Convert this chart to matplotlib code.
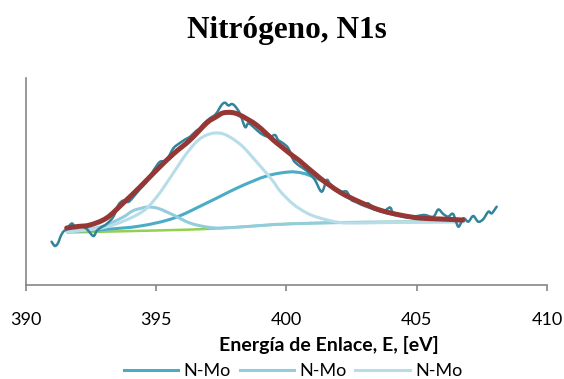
import matplotlib
matplotlib.use("Agg")
import matplotlib.pyplot as plt
from matplotlib.path import Path
from matplotlib.patches import PathPatch
from matplotlib.lines import Line2D

# ---- data (energy in eV, intensity in arbitrary units) ----
raw_e = [391.00, 391.13, 391.25, 391.32, 391.44, 391.58, 391.77, 391.90, 392.05, 392.17,
         392.35, 392.60, 392.73, 392.86, 393.11, 393.37, 393.56, 393.75, 393.94, 394.12,
         394.39, 394.65, 394.85, 394.97, 395.16, 395.41, 395.67, 395.92, 396.15, 396.31,
         396.54, 396.69, 396.82, 397.07, 397.30, 397.52, 397.65, 397.78, 397.91, 398.03,
         398.22, 398.42, 398.54, 398.73, 398.91, 399.12, 399.37, 399.57, 399.69, 399.88,
         400.08, 400.27, 400.46, 400.65, 400.87, 401.10, 401.36, 401.55, 401.68, 401.91,
         402.12, 402.32, 402.51, 402.70, 402.95, 403.14, 403.34, 403.52, 403.72, 403.98,
         404.10, 404.36, 404.59, 404.87, 405.13, 405.32, 405.64, 405.83, 406.02, 406.21,
         406.40, 406.60, 406.79, 406.98, 407.17, 407.36, 407.55, 407.75, 407.88, 408.07]
raw_i = [43.3, 39.0, 42.0, 47.0, 53.0, 56.0, 61.5, 58.5, 59.5, 58.5,
         56.0, 49.0, 54.0, 57.0, 61.0, 68.3, 80.0, 84.5, 83.0, 87.5,
         96.0, 103.3, 112.0, 117.0, 123.3, 125.0, 136.7, 142.0, 146.0, 148.3,
         154.0, 156.7, 161.0, 166.7, 171.0, 180.0, 182.3, 179.5, 181.0, 179.0,
         171.7, 158.0, 161.7, 158.3, 154.0, 150.0, 148.0, 150.0, 145.0, 141.7,
         136.7, 125.0, 120.0, 116.7, 112.0, 105.0, 93.3, 105.0, 101.0, 96.0,
         93.3, 93.3, 85.0, 83.3, 80.0, 81.7, 76.7, 75.0, 73.3, 77.5,
         71.7, 70.0, 68.0, 68.3, 69.5, 70.0, 68.3, 75.5, 71.0, 68.3,
         71.0, 58.3, 66.7, 63.3, 69.0, 63.3, 65.7, 73.3, 71.7, 78.3]

env_e = [391.58, 392.0, 392.47, 393.11, 393.75, 394.39, 395.03, 395.67, 396.31, 396.95,
         397.3, 397.57, 397.9, 398.22, 398.86, 399.5, 399.76, 400.26, 400.52, 401.29,
         402.05, 402.82, 403.58, 404.36, 405.1, 405.9, 406.77]
env_i = [57, 58.5, 60, 67, 82, 98, 115, 131, 145, 162,
         168, 172, 172.5, 170, 160, 145, 139.5, 129, 124, 107,
         93, 83, 75, 70, 67, 66, 65]

base_e = [391.6, 393.0, 394.5, 396.0, 396.7, 397.5, 398.5, 399.5, 400.5, 401.5, 403.0, 405.0, 406.8]
base_i = [52.5, 53.3, 54.2, 55.2, 55.8, 56.8, 58.5, 60.3, 61.5, 62.2, 62.8, 63.1, 63.3]

c1_e = [391.6, 393.0, 394.4, 395.7, 396.95, 398.2, 399.25, 400.1, 400.6, 401.0,
        401.4, 402.0, 402.8, 403.6, 404.4, 405.1, 405.9, 406.8]
c1_i = [53.5, 55.5, 59, 67, 82, 98, 109, 113, 112, 108.5,
        103.5, 93, 81.5, 74, 69, 66.5, 65, 64]

c2_e = [391.6, 392.5, 393.1, 393.75, 394.1, 394.4, 394.7, 395.1, 395.67, 396.3,
        396.95, 397.5, 398.5, 400.0, 403.0, 406.8]
c2_i = [53.5, 56, 60, 68, 74, 76.5, 78, 76.5, 70, 62,
        58, 57, 58.5, 61, 62.8, 63.3]

c3_e = [391.6, 393.1, 394.4, 395.03, 395.67, 396.0, 396.31, 396.63, 396.95, 397.27,
        397.6, 397.96, 398.35, 398.73, 399.1, 399.49, 399.76, 400.26, 400.79, 401.29,
        402.05, 402.82, 404.0, 406.8]
c3_i = [53, 58, 72, 88, 112, 125, 136, 145, 150, 152,
        151, 146, 138, 127, 116, 104, 94, 81, 72, 67,
        62.5, 62, 62.5, 63.3]

x_ticks = [390, 395, 400, 405, 410]
legend_labels = ["N-Mo", "N-Mo", "N-Mo"]


def smooth_line(ax, xs, ys, **kw):
    # Excel-style "smoothed line": cubic Bezier through every point
    n = len(xs)
    verts = [(xs[0], ys[0])]
    codes = [Path.MOVETO]
    for i in range(n - 1):
        x0, y0 = xs[max(i - 1, 0)], ys[max(i - 1, 0)]
        x1, y1 = xs[i], ys[i]
        x2, y2 = xs[i + 1], ys[i + 1]
        x3, y3 = xs[min(i + 2, n - 1)], ys[min(i + 2, n - 1)]
        verts += [(x1 + (x2 - x0) / 6, y1 + (y2 - y0) / 6),
                  (x2 - (x3 - x1) / 6, y2 - (y3 - y1) / 6),
                  (x2, y2)]
        codes += [Path.CURVE4] * 3
    patch = PathPatch(Path(verts, codes), fill=False, capstyle="round",
                      joinstyle="round", **kw)
    ax.add_patch(patch)


grey = "#868686"
plt.rcParams["font.family"] = ["Lato", "DejaVu Sans"]

fig = plt.figure(figsize=(5.64, 3.79), dpi=100)
ax = fig.add_axes([25.5 / 564, 1 - 285 / 379, (547 - 25.5) / 564, (285 - 78) / 379])

smooth_line(ax, base_e, base_i, edgecolor="#92D050", lw=1.8, zorder=2)
smooth_line(ax, c1_e, c1_i, edgecolor="#4BACC6", lw=2.2, zorder=3)
smooth_line(ax, c2_e, c2_i, edgecolor="#93CDDD", lw=2.2, zorder=3)
smooth_line(ax, c3_e, c3_i, edgecolor="#B7DEE8", lw=2.2, zorder=3)
smooth_line(ax, raw_e, raw_i, edgecolor="#31849B", lw=1.8, zorder=4)
smooth_line(ax, env_e, env_i, edgecolor="#953735", lw=3.6, zorder=5)

ax.set_xlim(390, 410)
ax.set_ylim(0, 207)
ax.set_xticks(x_ticks)
ax.set_yticks([])
for s in ["top", "right"]:
    ax.spines[s].set_visible(False)
for s in ["left", "bottom"]:
    ax.spines[s].set_color(grey)
    ax.spines[s].set_linewidth(1.2)
ax.tick_params(axis="x", direction="out", length=4.5, width=1.2, color=grey,
               pad=15, labelsize=13, labelcolor="black")

fig.text(287 / 564, 1 - 38 / 379, "Nitrógeno, N1s", family="Liberation Serif",
         fontweight="bold", fontsize=22.5, ha="center", va="baseline")
fig.text(329 / 564, 1 - 351 / 379, "Energía de Enlace, E, [eV]", fontweight="bold",
         fontsize=14, ha="center", va="baseline")

handles = [Line2D([], [], color=c, lw=2.2) for c in ["#4BACC6", "#93CDDD", "#B7DEE8"]]
fig.legend(handles, legend_labels, loc="center", bbox_to_anchor=(293 / 564, 1 - 371 / 379),
           ncol=3, frameon=False, fontsize=13, handlelength=3.0, handletextpad=0.3,
           columnspacing=0.5, borderpad=0, borderaxespad=0)

fig.savefig("out.png", dpi=100)
